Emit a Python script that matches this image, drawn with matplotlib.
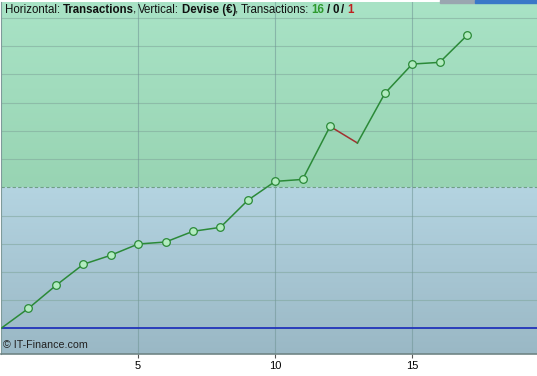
import numpy as np
import matplotlib
matplotlib.use("Agg")
import matplotlib.pyplot as plt
from matplotlib.colors import LinearSegmentedColormap
from matplotlib.patches import Rectangle

plt.rcParams["font.family"] = ["Liberation Sans", "DejaVu Sans"]

# equity curve per transaction (grid units)
trades = list(range(0, 18))
equity = [0.0, 0.71, 1.52, 2.27, 2.59, 2.99, 3.06, 3.44, 3.58, 4.54,
          5.21, 5.28, 7.16, 6.57, 8.33, 9.37, 9.43, 10.39]
start_capital = 5.0
x_ticks = [5, 10, 15]
n_win, n_even, n_loss = 16, 0, 1

fig = plt.figure(figsize=(5.37, 3.76), dpi=100)
fig.patch.set_facecolor("white")
ax = fig.add_axes([0.002, 22 / 376, 0.998, 352 / 376])

xmin, xmax = 0, 19.55
ymin, ymax = -0.91, 11.57
ax.set_xlim(xmin, xmax)
ax.set_ylim(ymin, ymax)

# background: green above starting capital, blue below
green = LinearSegmentedColormap.from_list("g", ["#98d4b3", "#a9e3c6"])
blue = LinearSegmentedColormap.from_list("b", ["#9ab8c5", "#b4d4e1"])
grad = np.linspace(0, 1, 256).reshape(-1, 1)
ax.imshow(grad, cmap=green, origin="lower", aspect="auto",
          extent=[xmin, xmax, start_capital, ymax], zorder=0)
ax.imshow(grad, cmap=blue, origin="lower", aspect="auto",
          extent=[xmin, xmax, ymin, start_capital], zorder=0)

# grid
for gy in range(0, 12):
    if gy == start_capital:
        continue
    ax.axhline(gy, color="#7fa59a", lw=0.8, alpha=0.55, zorder=1)
for gx in x_ticks:
    ax.axvline(gx, color="#6f9494", lw=0.8, alpha=0.55, zorder=1)
ax.axhline(start_capital, color="#6f9f86", lw=0.8, ls=(0, (3, 2)), zorder=1)
ax.axhline(0, color="#2233bb", lw=1.3, zorder=2)

# equity line: green for gains, red for losses
for i in range(1, len(trades)):
    c = "#2b8a38" if equity[i] >= equity[i - 1] else "#a23030"
    ax.plot(trades[i - 1:i + 1], equity[i - 1:i + 1], color=c, lw=1.1, zorder=3)
mx = [t for i, t in enumerate(trades) if i > 0 and equity[i] >= equity[i - 1]]
my = [e for i, e in enumerate(equity) if i > 0 and equity[i] >= equity[i - 1]]
ax.plot(mx, my, ls="none", marker="o", ms=5.5, mfc="#b2ecc0", mec="#2b8a38",
        mew=0.9, zorder=4)

ax.set_xticks(x_ticks)
ax.set_xticklabels([str(t) for t in x_ticks], fontsize=8)
ax.tick_params(axis="x", length=3, pad=2, color="#555555")
ax.set_yticks([])
for s in ["top", "right"]:
    ax.spines[s].set_visible(False)
ax.spines["left"].set_color("#7f9a9a")
ax.spines["bottom"].set_color("#6f8585")
ax.spines["bottom"].set_linewidth(1.2)

ax.text(0.004, 0.012, "\u00a9 IT-Finance.com", transform=ax.transAxes,
        fontsize=7.7, color="#222222", va="bottom", ha="left", zorder=5)

# window strip at the top right
fig.patches.append(Rectangle((440 / 537, 373 / 376), 35 / 537, 3 / 376,
                             transform=fig.transFigure, color="#9aa6b0"))
fig.patches.append(Rectangle((475 / 537, 373 / 376), 62 / 537, 3 / 376,
                             transform=fig.transFigure, color="#3a78c8"))

# header with mixed styles: (text, weight, colour, gap after in px)
sp = 3.4
parts = [("Horizontal:", "normal", "#111111", sp),
         ("Transactions", "bold", "#111111", 0),
         (",", "normal", "#111111", sp),
         ("Vertical:", "normal", "#111111", sp),
         ("Devise (\u20ac)", "bold", "#111111", 0),
         (",", "normal", "#111111", sp),
         ("Transactions:", "normal", "#111111", sp),
         (str(n_win), "bold", "#2e9a2e", sp),
         ("/", "bold", "#111111", sp),
         (str(n_even), "bold", "#111111", sp),
         ("/", "bold", "#111111", sp),
         (str(n_loss), "bold", "#c02020", 0)]
renderer = fig.canvas.get_renderer()
xpix = 5
for txt, w, c, gap in parts:
    t = fig.text(xpix / 537, 1 - 13 / 376, txt, fontsize=8.3, fontweight=w,
                 color=c, va="baseline", ha="left")
    bb = t.get_window_extent(renderer)
    xpix += bb.width - 1.0 + gap

fig.savefig("out.png", dpi=100, facecolor="white")
